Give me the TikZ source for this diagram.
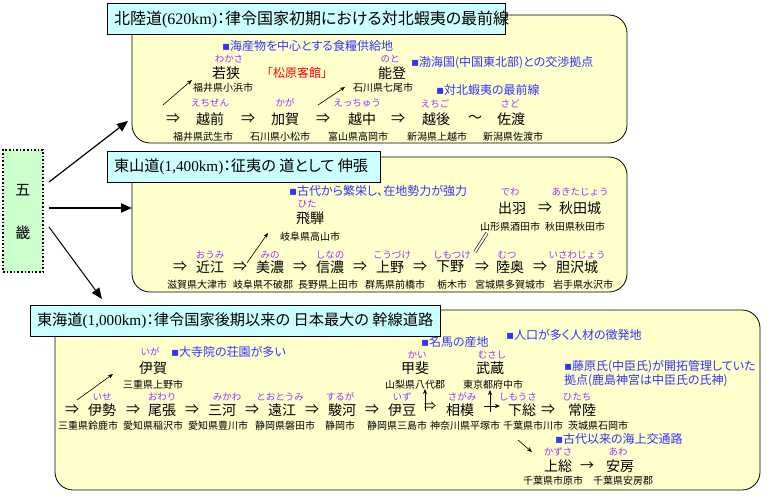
\documentclass[tikz,border=0pt]{standalone}
\usepackage{fontspec}
\setmainfont[RawFeature=+palt]{Noto Sans CJK JP}
\newfontfamily\fullw{Noto Sans CJK JP}
\newfontfamily\lserif{Liberation Serif}
\newfontfamily\dvs{DejaVu Sans}
\usetikzlibrary{arrows.meta}
\definecolor{panelc}{HTML}{FFFFCC}
\definecolor{hdrc}{HTML}{CCFFFF}
\definecolor{gokic}{HTML}{CCFFCC}
\definecolor{notec}{HTML}{3333FF}
\definecolor{kanac}{HTML}{9933FF}
\definecolor{redc}{HTML}{FF0000}
\newcommand\bul{{\dvs ▪}}
\begin{document}
\begin{tikzpicture}[x=1pt,y=-1pt,
 base/.style={inner sep=0pt,outer sep=0pt},
 kanji/.style={base,font=\fontsize{14}{16}\selectfont},
 kana/.style={base,font=\fullw\fontsize{9.5}{11}\selectfont,text=kanac},
 city/.style={base,font=\fontsize{10}{12}\selectfont},
 note/.style={base,anchor=west,font=\fontsize{12}{14}\selectfont,text=notec},
 sym/.style={base,font=\fontsize{14}{16}\selectfont},
 htext/.style={base,anchor=west,font=\fontsize{16}{18}\selectfont},
 hbox/.style={draw,fill=hdrc,line width=0.8pt},
 panel/.style={draw,fill=panelc,rounded corners=18pt,line width=0.8pt},
 sarr/.style={-{Stealth[length=5pt,width=4pt]},line width=0.6pt},
 bigarr/.style={-{Triangle[length=11pt,width=9pt]}},
]
\path[use as bounding box] (0,0) rectangle (767,495);
\fill[white] (0,0) rectangle (767,495);

% ---------- panel 1 ----------
\draw[panel] (132,15) rectangle (627,143);
\draw[hbox] (107,3) rectangle (505,34);
\node[htext] (h1) at (114,19) {北陸道{\lserif (620km)}：律令国家初期における対北蝦夷の最前線};

\node[note] (n1) at (222,46) {\bul 海産物を中心とする食糧供給地};
\node[kana] (kwakasa) at (229,59) {わかさ};
\node[kanji] (wakasa) at (226,73) {若狭};
\node[city] (cwakasa) at (223,88) {福井県小浜市};
\node[base,font=\fontsize{12}{14}\selectfont,text=redc] (matsu) at (297,73) {「松原客館」};
\node[kana] (knoto) at (390,59) {のと};
\node[kanji] (noto) at (392,73) {能登};
\node[city] (cnoto) at (383,88) {石川県七尾市};
\node[note] (n2) at (411,63) {\bul 渤海国(中国東北部)との交渉拠点};
\node[note] (n3) at (436,90) {\bul 対北蝦夷の最前線};

\node[sym] (r1a) at (173,119) {⇒};
\node[kana] (kechizen) at (210,103) {えちぜん};
\node[kanji] (echizen) at (210,119) {越前};
\node[city] (cechizen) at (203,137) {福井県武生市};
\node[sym] (r1b) at (248,119) {⇒};
\node[kana] (kkaga) at (285,103) {かが};
\node[kanji] (kaga) at (285,119) {加賀};
\node[city] (ckaga) at (280,137) {石川県小松市};
\node[sym] (r1c) at (323,119) {⇒};
\node[kana] (ketchu) at (357,103) {えっちゅう};
\node[kanji] (etchu) at (362,119) {越中};
\node[city] (cetchu) at (358,137) {富山県高岡市};
\node[sym] (r1d) at (398,119) {⇒};
\node[kana] (kechigo) at (435,104) {えちご};
\node[kanji] (echigo) at (436,119) {越後};
\node[city] (cechigo) at (437,137) {新潟県上越市};
\node[sym] (r1e) at (475,119) {〜};
\node[kana] (ksado) at (510,104) {さど};
\node[kanji] (sado) at (511,119) {佐渡};
\node[city] (csado) at (513,137) {新潟県佐渡市};

\coordinate (a1s) at (163,105); \coordinate (a1e) at (192,80);
\draw[sarr] (a1s) -- (a1e);
\coordinate (a2s) at (318,105); \coordinate (a2e) at (345,87);
\draw[sarr] (a2s) -- (a2e);

% ---------- panel 2 ----------
\draw[panel] (132,157) rectangle (627,292);
\draw[hbox] (107,151) rectangle (380,182);
\node[htext,font=\fontsize{15.2}{17}\selectfont] (h2) at (114,167) {東山道{\lserif (1,400km)}：征夷の 道として 伸張};

\node[note] (n4) at (289,191) {\bul 古代から繁栄し、在地勢力が強力};
\node[kana] (khida) at (307,204) {ひた};
\node[kanji] (hida) at (310,218) {飛騨};
\node[city] (chida) at (310,237) {岐阜県高山市};
\coordinate (a3s) at (247,263); \coordinate (a3e) at (268,233);
\draw[sarr] (a3s) -- (a3e);

\node[sym] (r2a) at (180,267) {⇒};
\node[kana] (komi) at (210,255) {おうみ};
\node[kanji] (omi) at (210,267) {近江};
\node[city] (comi) at (197,285) {滋賀県大津市};
\node[sym] (r2b) at (240,267) {⇒};
\node[kana] (kmino) at (270,255) {みの};
\node[kanji] (mino) at (270,267) {美濃};
\node[city] (cmino) at (263,285) {岐阜県不破郡};
\node[sym] (r2c) at (300,267) {⇒};
\node[kana] (kshinano) at (330,255) {しなの};
\node[kanji] (shinano) at (330,267) {信濃};
\node[city] (cshinano) at (328,285) {長野県上田市};
\node[sym] (r2d) at (360,267) {⇒};
\node[kana] (kkozuke) at (392,255) {こうづけ};
\node[kanji] (kozuke) at (390,267) {上野};
\node[city] (ckozuke) at (395,285) {群馬県前橋市};
\node[sym] (r2e) at (420,267) {⇒};
\node[kana] (kshimotsuke) at (452,255) {しもつけ};
\node[kanji] (shimotsuke) at (450,267) {下野};
\node[city] (cshimotsuke) at (452,285) {栃木市};
\node[sym] (r2f) at (482,267) {⇒};
\node[kana] (kmutsu) at (507,255) {むつ};
\node[kanji] (mutsu) at (510,267) {陸奥};
\node[city] (cmutsu) at (510,285) {宮城県多賀城市};
\node[sym] (r2g) at (540,267) {⇒};
\node[kana] (kisawa) at (577,255) {いさわじょう};
\node[kanji] (isawa) at (577,267) {胆沢城};
\node[city] (cisawa) at (583,285) {岩手県水沢市};

\node[kana] (kdewa) at (510,192) {でわ};
\node[kanji] (dewa) at (512,208) {出羽};
\node[city] (cdewa) at (510,227) {山形県酒田市};
\node[sym] (r2h) at (545,208) {⇒};
\node[kana] (kakita) at (580,192) {あきたじょう};
\node[kanji] (akita) at (580,208) {秋田城};
\node[city] (cakita) at (575,227) {秋田県秋田市};
\coordinate (d1s) at (475,252); \coordinate (d1e) at (487,233);
\draw[double,double distance=2pt,line width=0.6pt] (d1s) -- (d1e);

% ---------- panel 3 ----------
\draw[panel] (55,310) rectangle (760,490);
\draw[hbox] (30,305) rectangle (440,336);
\node[htext,font=\fontsize{15.2}{17}\selectfont] (h3) at (37,321) {東海道{\lserif (1,000km)}：律令国家後期以来の 日本最大の 幹線道路};

\node[kana] (kiga) at (150,352) {いが};
\node[note] (n5) at (171,352) {\bul 大寺院の荘園が多い};
\node[kanji] (iga) at (153,368) {伊賀};
\node[city] (ciga) at (153,385) {三重県上野市};
\coordinate (a4s) at (77,400); \coordinate (a4e) at (113,374);
\draw[sarr] (a4s) -- (a4e);

\node[sym] (r3a) at (72,410) {⇒};
\node[kana] (kise) at (102,397) {いせ};
\node[kanji] (ise) at (102,410) {伊勢};
\node[city] (cise) at (88,426) {三重県鈴鹿市};
\node[sym] (r3b) at (133,410) {⇒};
\node[kana] (kowari) at (162,397) {おわり};
\node[kanji] (owari) at (162,410) {尾張};
\node[city] (cowari) at (153,426) {愛知県稲沢市};
\node[sym] (r3c) at (192,410) {⇒};
\node[kana] (kmikawa) at (227,397) {みかわ};
\node[kanji] (mikawa) at (222,410) {三河};
\node[city] (cmikawa) at (218,426) {愛知県豊川市};
\node[sym] (r3d) at (252,410) {⇒};
\node[kana] (ktotomi) at (280,397) {とおとうみ};
\node[kanji] (totomi) at (282,410) {遠江};
\node[city] (ctotomi) at (285,426) {静岡県磐田市};
\node[sym] (r3e) at (312,410) {⇒};
\node[kana] (ksuruga) at (340,397) {するが};
\node[kanji] (suruga) at (342,410) {駿河};
\node[city] (csuruga) at (340,426) {静岡市};
\node[sym] (r3f) at (372,410) {⇒};
\node[kana] (kizu) at (402,397) {いず};
\node[kanji] (izu) at (402,410) {伊豆};
\node[city] (cizu) at (397,426) {静岡県三島市};
\node[kana] (ksagami) at (462,397) {さがみ};
\node[kanji] (sagami) at (460,410) {相模};
\node[city] (csagami) at (465,426) {神奈川県平塚市};
\node[kana] (kshimousa) at (518,397) {しもうさ};
\node[kanji] (shimousa) at (522,410) {下総};
\node[city] (cshimousa) at (533,426) {千葉県市川市};
\node[sym] (r3g) at (548,410) {⇒};
\node[kana] (khitachi) at (577,397) {ひたち};
\node[kanji] (hitachi) at (582,410) {常陸};
\node[city] (chitachi) at (598,426) {茨城県石岡市};

\node[note] (n6) at (421,342) {\bul 名馬の産地};
\node[kana] (kkai) at (417,355) {かい};
\node[kanji] (kai) at (415,368) {甲斐};
\node[city] (ckai) at (415,385) {山梨県八代郡};
\node[kana] (kmusashi) at (492,355) {むさし};
\node[kanji] (musashi) at (490,368) {武蔵};
\node[city] (cmusashi) at (493,385) {東京都府中市};
\node[note] (n7) at (506,335) {\bul 人口が多く人材の徴発地};
\node[note] (n8) at (564,367) {\bul 藤原氏(中臣氏)が開拓管理していた};
\node[note] (n8b) at (564,381) {拠点(鹿島神宮は中臣氏の氏神)};

\coordinate (b1s) at (425,411); \coordinate (b1e) at (425,389);
\draw[sarr] (b1s) -- (b1e);
\node[base,anchor=west,font=\fontsize{12}{14}\selectfont] (b1r) at (424,406) {⇒};
\coordinate (b2s) at (490,412); \coordinate (b2e) at (490,390);
\draw[sarr] (b2s) -- (b2e);
\coordinate (b3s) at (484,406); \coordinate (b3e) at (500,406);
\draw[sarr] (b3s) -- (b3e);

\coordinate (a5s) at (518,440); \coordinate (a5e) at (532,452);
\draw[sarr] (a5s) -- (a5e);
\node[note] (n9) at (555,439) {\bul 古代以来の海上交通路};
\node[kana] (kkazusa) at (558,452) {かずさ};
\node[kanji] (kazusa) at (558,466) {上総};
\node[city] (ckazusa) at (553,481) {千葉県市原市};
\node[sym] (r3h) at (587,466) {→};
\node[kana] (kawa) at (618,452) {あわ};
\node[kanji] (awa) at (620,466) {安房};
\node[city] (cawa) at (623,481) {千葉県安房郡};

% ---------- goki ----------
\node[draw,fill=gokic,dotted,line width=1.6pt,minimum width=40pt,minimum height=122pt,base] (goki) at (23,211) {};
\node[base,font=\fontsize{15}{17}\selectfont] (go) at (23,190) {五};
\node[base,font=\fontsize{15}{17}\selectfont] (ki) at (23,233) {畿};

\coordinate (g1) at (49,182); \coordinate (p1) at (128,121);
\coordinate (g2) at (49,208); \coordinate (p2) at (132,208);
\coordinate (g3) at (49,227); \coordinate (p3) at (102,299);
\draw[bigarr,line width=1.2pt] (g1) -- (p1);
\draw[bigarr,line width=2pt] (g2) -- (p2);
\draw[bigarr,line width=1pt] (g3) -- (p3);
\end{tikzpicture}
\end{document}
